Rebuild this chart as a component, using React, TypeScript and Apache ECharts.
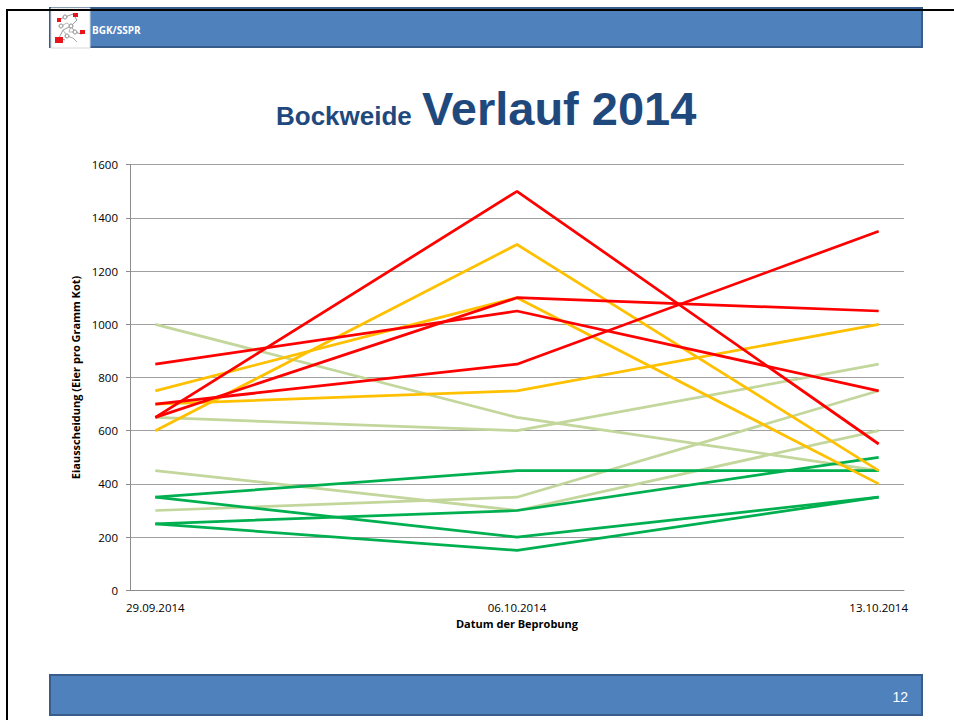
import { useEffect, useRef } from "react";
import * as echarts from "echarts";

// Sampling dates (x categories)
const dates = ["29.09.2014", "06.10.2014", "13.10.2014"];
const yTicks = [0, 200, 400, 600, 800, 1000, 1200, 1400, 1600];

// Red series (high egg counts)
const redA = [850, 1050, 750];
const redB = [700, 850, 1350];
const redC = [650, 1100, 1050];
const redD = [650, 1500, 550];
// Orange series
const orangeE = [750, 1100, 400];
const orangeF = [600, 1300, 450];
const orangeG = [700, 750, 1000];
// Light green series
const lightH = [1000, 650, 450];
const lightI = [650, 600, 850];
const lightJ = [300, 350, 750];
const lightK = [450, 300, 600];
// Green series
const greenL = [350, 450, 450];
const greenM = [350, 200, 350];
const greenN = [250, 300, 500];
const greenO = [250, 150, 350];

const RED = "#FF0000";
const ORANGE = "#FFC000";
const LIGHT = "#C3D69B";
const GREEN = "#00B050";

const seriesDefs = [
  { name: "H", values: lightH, color: LIGHT },
  { name: "I", values: lightI, color: LIGHT },
  { name: "J", values: lightJ, color: LIGHT },
  { name: "K", values: lightK, color: LIGHT },
  { name: "L", values: greenL, color: GREEN },
  { name: "M", values: greenM, color: GREEN },
  { name: "N", values: greenN, color: GREEN },
  { name: "O", values: greenO, color: GREEN },
  { name: "E", values: orangeE, color: ORANGE },
  { name: "F", values: orangeF, color: ORANGE },
  { name: "G", values: orangeG, color: ORANGE },
  { name: "A", values: redA, color: RED },
  { name: "B", values: redB, color: RED },
  { name: "C", values: redC, color: RED },
  { name: "D", values: redD, color: RED },
];

const FONT = "'Open Sans', 'Noto Sans', sans-serif";
const TITLE_COLOR = "#1F497D";
const BAR_FILL = "#4F81BD";
const BAR_STROKE = "#385D8A";

// logo decoration (offset by its box origin)
const LX = 51;
const LY = 8;
function logoElements() {
  const grey = { stroke: "#9A9A9A", lineWidth: 1, fill: "none" };
  const pts = (p: number[][]) => p.map(([a, b]) => [a + LX, b + LY]);
  const node = (cx: number, cy: number) => ({
    type: "circle",
    z: 3,
    shape: { cx: cx + LX, cy: cy + LY, r: 2 },
    style: { fill: "#ffffff", stroke: "#8A8A8A", lineWidth: 1 },
  });
  const red = (x: number, y: number, w: number, h: number) => ({
    type: "rect",
    z: 4,
    shape: { x: x + LX, y: y + LY, width: w, height: h },
    style: { fill: "#E8141C" },
  });
  return [
    { type: "rect", z: 2, shape: { x: LX, y: LY, width: 39, height: 40 }, style: { fill: "#ffffff", stroke: "#D9D9D9", lineWidth: 1 } },
    { type: "polyline", z: 3, shape: { points: pts([[7, 12], [14, 9], [22, 6], [26, 12], [20, 18], [12, 22], [8, 30], [14, 32]]) }, style: grey },
    { type: "polyline", z: 3, shape: { points: pts([[20, 18], [24, 24], [30, 26], [34, 24]]) }, style: grey },
    { type: "polyline", z: 3, shape: { points: pts([[12, 22], [16, 28], [22, 30], [26, 34]]) }, style: { ...grey, stroke: "#B0B0B0" } },
    { type: "polyline", z: 3, shape: { points: pts([[10, 18], [16, 15], [20, 18], [18, 24], [24, 24]]) }, style: { ...grey, stroke: "#B8B8B8" } },
    node(14, 9),
    node(20, 18),
    node(24, 24),
    node(16, 28),
    node(10, 18),
    red(22, 5, 5, 4),
    red(6, 10, 4, 4),
    red(4, 29, 8, 6),
    red(29, 22, 5, 4),
  ];
}

function buildOption() {
  return {
    animation: false,
    backgroundColor: "#ffffff",
    grid: { left: 130, right: 50, top: 164.7, bottom: 129.7, containLabel: false },
    xAxis: {
      type: "value",
      min: -0.07,
      max: 2.07,
      name: "Datum der Beprobung",
      nameLocation: "middle",
      nameGap: 27,
      nameTextStyle: { fontFamily: FONT, fontSize: 11, fontWeight: "bold", color: "#000" },
      axisLine: { show: true, onZero: false, lineStyle: { color: "#8C8C8C", width: 1 } },
      axisTick: { show: false },
      splitLine: { show: false },
      axisLabel: {
        customValues: [0, 1, 2],
        formatter: (v: number) => dates[Math.round(v)] ?? "",
        fontFamily: FONT,
        fontSize: 11.5,
        color: "#000",
        margin: 11,
      },
    },
    yAxis: {
      type: "value",
      min: yTicks[0],
      max: yTicks[yTicks.length - 1],
      interval: 200,
      name: "Eiausscheidung (Eier pro Gramm Kot)",
      nameLocation: "middle",
      nameGap: 39,
      nameTextStyle: { fontFamily: FONT, fontSize: 11, fontWeight: "bold", color: "#000" },
      axisLine: { show: true, onZero: false, lineStyle: { color: "#8C8C8C", width: 1 } },
      axisTick: { show: true, inside: false, length: 4, lineStyle: { color: "#8C8C8C" } },
      splitLine: { show: true, lineStyle: { color: "#A0A0A0", width: 1 } },
      axisLabel: {
        fontFamily: FONT,
        fontSize: 11.5,
        color: "#000",
        margin: 12,
        formatter: (v: number) => String(v),
      },
    },
    series: seriesDefs.map((s) => ({
      name: s.name,
      type: "line",
      data: s.values.map((v, i) => [i, v]),
      symbol: "none",
      smooth: false,
      lineStyle: { color: s.color, width: 2.75 },
      itemStyle: { color: s.color },
      z: 3,
    })),
    graphic: [
      // header bar
      {
        type: "rect",
        z: 1,
        shape: { x: 50, y: 8, width: 872, height: 39 },
        style: { fill: BAR_FILL, stroke: BAR_STROKE, lineWidth: 2 },
      },
      ...logoElements(),
      {
        type: "text",
        x: 92,
        y: 30,
        z: 2,
        style: {
          text: "BGK/SSPR",
          fill: "#ffffff",
          fontFamily: FONT,
          fontSize: 10,
          fontWeight: "bold",
          align: "left",
          verticalAlign: "middle",
          textAlign: "left",
          textVerticalAlign: "middle",
        },
      },
      // black slide frame
      {
        type: "line",
        z: 5,
        shape: { x1: 6, y1: 10, x2: 954, y2: 10 },
        style: { stroke: "#000000", lineWidth: 2 },
      },
      {
        type: "line",
        z: 5,
        shape: { x1: 7, y1: 9, x2: 7, y2: 720 },
        style: { stroke: "#000000", lineWidth: 2 },
      },
      // title
      {
        type: "text",
        x: 276,
        y: 116,
        z: 2,
        style: {
          text: "Bockweide",
          fill: TITLE_COLOR,
          fontFamily: "'Liberation Sans', Arial, sans-serif",
          fontSize: 26,
          fontWeight: "bold",
          align: "left",
          verticalAlign: "middle",
          textAlign: "left",
          textVerticalAlign: "middle",
        },
      },
      {
        type: "text",
        x: 422,
        y: 108.5,
        z: 2,
        style: {
          text: "Verlauf 2014",
          fill: TITLE_COLOR,
          fontFamily: "'Liberation Sans', Arial, sans-serif",
          fontSize: 47,
          fontWeight: "bold",
          align: "left",
          verticalAlign: "middle",
          textAlign: "left",
          textVerticalAlign: "middle",
        },
      },
      // footer bar
      {
        type: "rect",
        z: 1,
        shape: { x: 50, y: 675, width: 872, height: 40 },
        style: { fill: BAR_FILL, stroke: BAR_STROKE, lineWidth: 2 },
      },
      {
        type: "text",
        x: 908,
        y: 697,
        z: 2,
        style: {
          text: "12",
          fill: "#ffffff",
          fontFamily: "'Liberation Sans Narrow', 'Liberation Sans', Arial, sans-serif",
          fontSize: 14,
          align: "right",
          verticalAlign: "middle",
          textAlign: "right",
          textVerticalAlign: "middle",
        },
      },
    ],
  };
}

export default function App() {
  const ref = useRef<HTMLDivElement>(null);
  useEffect(() => {
    if (!ref.current) return;
    const chart = echarts.init(ref.current, null, { renderer: "svg" });
    chart.setOption(buildOption() as any);
    return () => chart.dispose();
  }, []);
  return (
    <div
      ref={ref}
      style={{ position: "fixed", left: 0, top: 0, width: 954, height: 720, background: "#ffffff" }}
    />
  );
}
